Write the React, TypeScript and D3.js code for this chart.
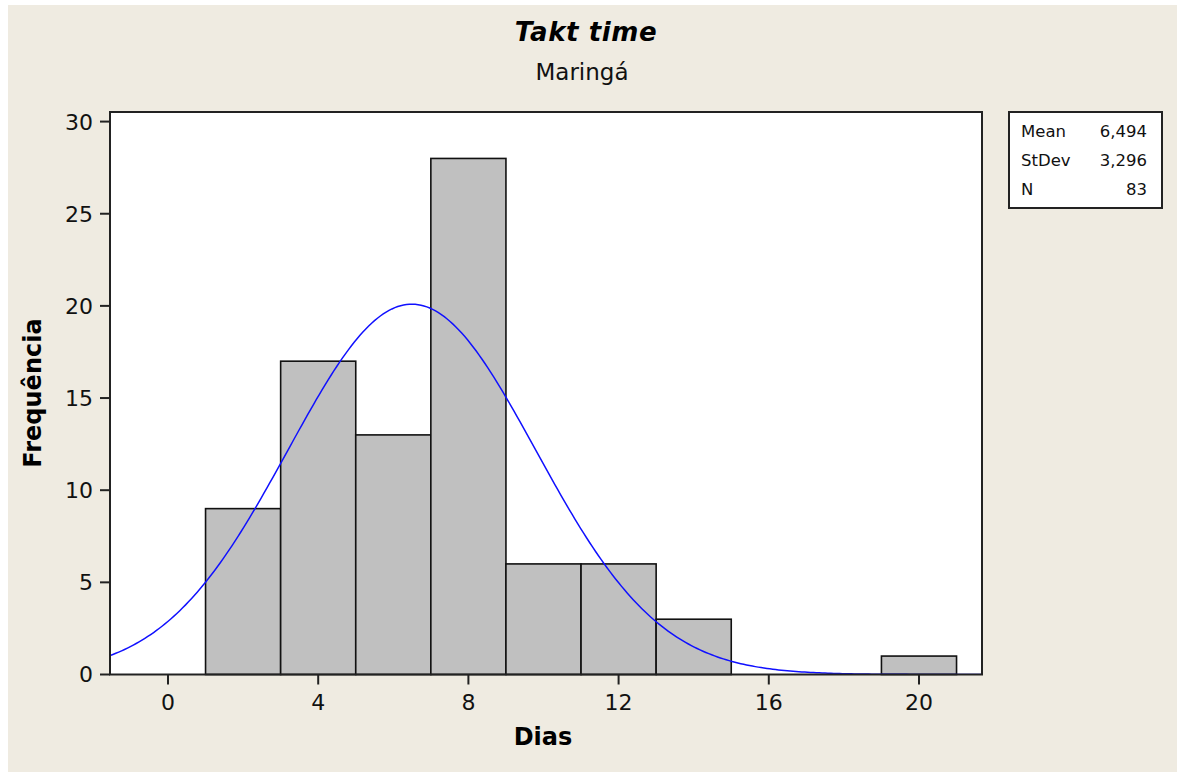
import React, { useEffect } from 'react';
import * as d3 from 'd3';

// histogram data
const binEdges = [1, 3, 5, 7, 9, 11, 13, 15, 17, 19, 21];
const counts = [9, 17, 13, 28, 6, 6, 3, 0, 0, 1];
const xTicks = [0, 4, 8, 12, 16, 20];
const yTicks = [0, 5, 10, 15, 20, 25, 30];
const statLabels = ['Mean', 'StDev', 'N'];
const statValues = ['6,494', '3,296', '83'];

// fitted normal
const mean = 6.494;
const sd = 3.296;
const n = 83;
const binWidth = 2;

const W = 1177;
const H = 772;
const plot = { left: 110, right: 982, top: 112, bottom: 674.5 };
const font = "'DejaVu Sans', Verdana, sans-serif";

export default function App() {
	useEffect(() => {
		document.body.style.margin = '0';
	}, []);

	const x = d3.scaleLinear().domain([-1.5446, 21.678]).range([plot.left, plot.right]);
	const y = d3.scaleLinear().domain([0, 30.52]).range([plot.bottom, plot.top]);

	const pdf = (v: number) => (n * binWidth) / (sd * Math.sqrt(2 * Math.PI)) * Math.exp(-0.5 * ((v - mean) / sd) ** 2);
	const [x0, x1] = x.domain();
	const curveXs = d3.range(0, 301).map(i => x0 + (x1 - x0) * i / 300);
	const line = d3.line<number>().x(d => x(d)).y(d => y(pdf(d)));

	return (
		<svg width={W} height={H} style={{ display: 'block', background: '#fff' }}>
			<rect x={8} y={5} width={W - 8} height={H - 5} fill="#efebe1" />

			<text x={586} y={41} textAnchor="middle" fontFamily={font} fontWeight="bold" fontStyle="italic" fontSize={26} letterSpacing={0.6}>Takt time</text>
			<text x={582} y={80} textAnchor="middle" fontFamily={font} fontSize={23} fill="#111">Maringá</text>

			<rect x={plot.left} y={plot.top} width={plot.right - plot.left} height={plot.bottom - plot.top} fill="#fff" />

			<g>
				{counts.map((c, i) => c > 0 && (
					<rect key={i}
						x={x(binEdges[i])}
						y={y(c)}
						width={x(binEdges[i + 1]) - x(binEdges[i])}
						height={y(0) - y(c)}
						fill="#c0c0c0" stroke="#111" strokeWidth={1.6} />
				))}
			</g>

			<clipPath id="plotclip">
				<rect x={plot.left} y={plot.top} width={plot.right - plot.left} height={plot.bottom - plot.top} />
			</clipPath>
			<path d={line(curveXs) || ''} fill="none" stroke="#1010ff" strokeWidth={1.5} clipPath="url(#plotclip)" />

			<rect x={plot.left} y={plot.top} width={plot.right - plot.left} height={plot.bottom - plot.top} fill="none" stroke="#222" strokeWidth={2} />

			<g fontFamily={font} fontSize={22} fill="#111">
				{yTicks.map(t => (
					<g key={t}>
						<line x1={plot.left - 10} x2={plot.left} y1={y(t)} y2={y(t)} stroke="#222" strokeWidth={2} />
						<text x={93} y={y(t)} dy="0.36em" textAnchor="end">{t}</text>
					</g>
				))}
				{xTicks.map(t => (
					<g key={t}>
						<line x1={x(t)} x2={x(t)} y1={plot.bottom} y2={plot.bottom + 10} stroke="#222" strokeWidth={2} />
						<text x={x(t)} y={710} textAnchor="middle">{t}</text>
					</g>
				))}
			</g>

			<text x={543} y={745} textAnchor="middle" fontFamily={font} fontWeight="bold" fontSize={24}>Dias</text>
			<text transform="translate(41,393) rotate(-90)" textAnchor="middle" fontFamily={font} fontWeight="bold" fontSize={24}>Frequência</text>

			<rect x={1009} y={112} width={153} height={96} fill="#fff" stroke="#222" strokeWidth={2} />
			<g fontFamily={font} fontSize={16.5} fill="#111">
				{statLabels.map((s, i) => (
					<g key={s}>
						<text x={1021} y={137 + i * 29}>{s}</text>
						<text x={1147} y={137 + i * 29} textAnchor="end">{statValues[i]}</text>
					</g>
				))}
			</g>
		</svg>
	);
}
